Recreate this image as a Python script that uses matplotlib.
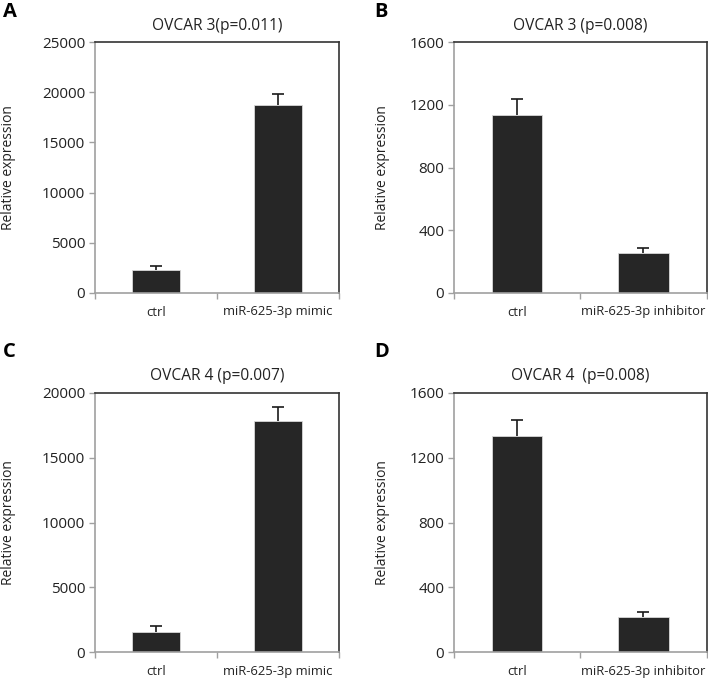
import matplotlib
matplotlib.use("Agg")
import matplotlib.pyplot as plt

plt.rcParams['font.family'] = ['Open Sans', 'DejaVu Sans']

# Data
cats_mimic = ["ctrl", "miR-625-3p mimic"]
cats_inhib = ["ctrl", "miR-625-3p inhibitor"]

a_vals = [2290, 18750]
a_err = [430, 1070]
b_vals = [1135, 255]
b_err = [100, 34]
c_vals = [1540, 17840]
c_err = [490, 1030]
d_vals = [1331, 216]
d_err = [101, 34]

titles = ["OVCAR 3(p=0.011)", "OVCAR 3 (p=0.008)", "OVCAR 4 (p=0.007)", "OVCAR 4  (p=0.008)"]
letters = ["A", "B", "C", "D"]
ylims = [25000, 1600, 20000, 1600]
yticks = [[0, 5000, 10000, 15000, 20000, 25000],
          [0, 400, 800, 1200, 1600],
          [0, 5000, 10000, 15000, 20000],
          [0, 400, 800, 1200, 1600]]

W, H = 708, 680
fig = plt.figure(figsize=(W / 100, H / 100), dpi=100)

def rect(l, r, t, b):
    return [l / W, 1 - b / H, (r - l) / W, (b - t) / H]

positions = [rect(95, 339, 42, 293), rect(454, 706.5, 42, 293),
             rect(95, 339, 392.7, 652.3), rect(454, 706.5, 392.7, 652.3)]
data = [(cats_mimic, a_vals, a_err), (cats_inhib, b_vals, b_err),
        (cats_mimic, c_vals, c_err), (cats_inhib, d_vals, d_err)]
letter_pos = [(3, 12), (374, 12), (3, 352), (374, 352)]
ylabel_x = [10, 384, 10, 384]

gray = "#a0a0a0"
for i in range(4):
    ax = fig.add_axes(positions[i])
    cats, vals, errs = data[i]
    x = [0, 1]
    ax.bar(x, vals, width=0.4, color="#262626", edgecolor="#d8d8d8", linewidth=0.6, zorder=2)
    eb = ax.errorbar(x, vals, yerr=[[0, 0], errs], fmt="none", ecolor="#1a1a1a",
                     elinewidth=1.2, capsize=4.5, capthick=1.2, zorder=3)
    eb[1][0].set_visible(False)
    ax.set_xlim(-0.5, 1.5)
    ax.set_ylim(0, ylims[i])
    ax.set_yticks(yticks[i])
    ax.set_yticklabels([str(v) for v in yticks[i]], fontsize=11, color="#222222")
    ax.set_xticks([-0.5, 0.5, 1.5], minor=False)
    ax.set_xticklabels([])
    ax.set_xticks(x, minor=True)
    ax.set_xticklabels(cats, minor=True, fontsize=9.4, color="#222222")
    ax.tick_params(axis='x', which='minor', length=0, pad=9)
    ax.tick_params(axis='x', which='major', length=4, color=gray, width=1, direction='out')
    ax.tick_params(axis='y', length=4, color=gray, width=1, direction='out', pad=3)
    for s in ["left", "bottom"]:
        ax.spines[s].set_color(gray)
        ax.spines[s].set_linewidth(1.2)
    for s in ["top", "right"]:
        ax.spines[s].set_color("#333333")
        ax.spines[s].set_linewidth(1.2)
    ax.set_title(titles[i], fontsize=11.2, color="#222222", pad=9)
    ax.set_ylabel("Relative expression", fontsize=10, color="#222222")
    ax.yaxis.set_label_coords((ylabel_x[i] + 6 - positions[i][0] * W) / (positions[i][2] * W), 0.5)
    fig.text(letter_pos[i][0] / W, 1 - letter_pos[i][1] / H, letters[i], fontsize=14.5,
             fontweight="bold", ha="left", va="center", family=['Open Sans', 'DejaVu Sans'])

fig.savefig("out.png", dpi=100)
